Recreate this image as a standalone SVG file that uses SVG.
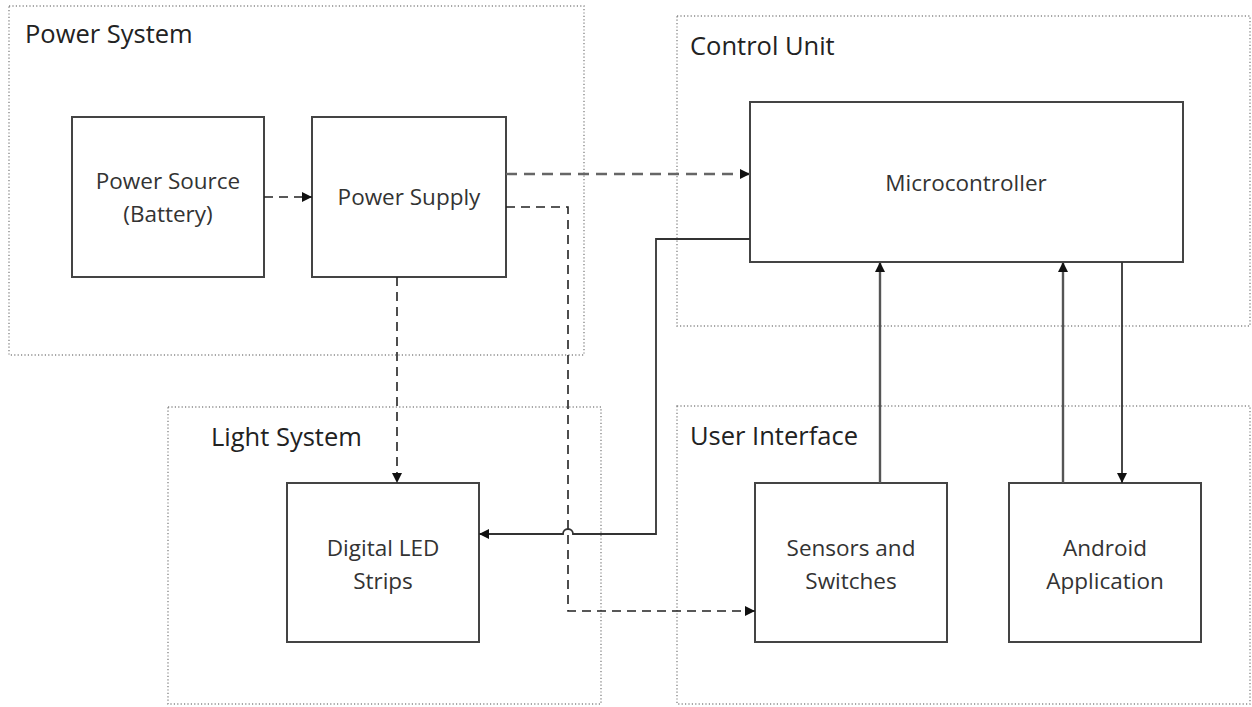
<svg xmlns="http://www.w3.org/2000/svg" width="1252" height="707" viewBox="0 0 1252 707">
  <style>
    .group { fill: none; stroke: #8a8a8a; stroke-width: 1.4; stroke-dasharray: 1.2 2.2; }
    .box { fill: #ffffff; stroke: #444444; stroke-width: 2; }
    .title { font-family: "Open Sans", "Liberation Sans", sans-serif; font-size: 25.5px; fill: #222222; }
    .label { font-family: "Open Sans", "Liberation Sans", sans-serif; font-size: 22.5px; fill: #333333; text-anchor: middle; }
    .dash { fill: none; stroke: #222222; stroke-width: 1.6; stroke-dasharray: 9 6; }
    .dash-grey { fill: none; stroke: #666666; stroke-width: 2.4; stroke-dasharray: 11 7; }
    .solid { fill: none; stroke: #333333; stroke-width: 1.8; }
    .solid-grey { fill: none; stroke: #555555; stroke-width: 2.4; }
  </style>
  <defs>
    <marker id="arrow" viewBox="0 0 10 10" refX="10" refY="5" markerWidth="10" markerHeight="10" markerUnits="userSpaceOnUse" orient="auto">
      <path d="M0,0 L10,5 L0,10 z" fill="#111111"/>
    </marker>
  </defs>

  <rect width="1252" height="707" fill="#ffffff"/>

  <!-- subsystem frames -->
  <g id="power-system">
    <rect class="group" x="9" y="6" width="575" height="349"/>
    <text class="title" x="25" y="43">Power System</text>
  </g>
  <g id="control-unit">
    <rect class="group" x="677" y="16" width="573" height="310"/>
    <text class="title" x="690" y="55">Control Unit</text>
  </g>
  <g id="light-system">
    <rect class="group" x="168" y="407" width="433" height="297"/>
    <text class="title" x="211" y="446">Light System</text>
  </g>
  <g id="user-interface">
    <rect class="group" x="677" y="406" width="573" height="298"/>
    <text class="title" x="690" y="445">User Interface</text>
  </g>

  <!-- components -->
  <g id="power-source">
    <rect class="box" x="72" y="117" width="192" height="160"/>
    <text class="label" x="168" y="189">Power Source</text>
    <text class="label" x="168" y="222">(Battery)</text>
  </g>
  <g id="power-supply">
    <rect class="box" x="312" y="117" width="194" height="160"/>
    <text class="label" x="409" y="205">Power Supply</text>
  </g>
  <g id="microcontroller">
    <rect class="box" x="750" y="102" width="433" height="160"/>
    <text class="label" x="966" y="191">Microcontroller</text>
  </g>
  <g id="digital-led-strips">
    <rect class="box" x="287" y="483" width="192" height="159"/>
    <text class="label" x="383" y="556">Digital LED</text>
    <text class="label" x="383" y="589">Strips</text>
  </g>
  <g id="sensors-switches">
    <rect class="box" x="755" y="483" width="192" height="159"/>
    <text class="label" x="851" y="556">Sensors and</text>
    <text class="label" x="851" y="589">Switches</text>
  </g>
  <g id="android-app">
    <rect class="box" x="1009" y="483" width="192" height="159"/>
    <text class="label" x="1105" y="556">Android</text>
    <text class="label" x="1105" y="589">Application</text>
  </g>

  <!-- connectors -->
  <g id="connectors">
    <!-- power distribution -->
    <path class="dash" d="M264,197 H312" marker-end="url(#arrow)"/>
    <path class="dash-grey" d="M506,174 H750" marker-end="url(#arrow)"/>
    <path class="dash" d="M506,207 H568 V611 H755" marker-end="url(#arrow)"/>
    <path class="dash" d="M397,277 V483" marker-end="url(#arrow)"/>
    <!-- control to lights, hopping over the supply line -->
    <path class="solid" d="M750,239 H656 V534 H573 A5,5 0 0 0 563,534 H479" marker-end="url(#arrow)"/>
    <!-- inputs and feedback -->
    <path class="solid-grey" d="M880,483 V262" marker-end="url(#arrow)"/>
    <path class="solid-grey" d="M1063,483 V262" marker-end="url(#arrow)"/>
    <path class="solid" d="M1122,262 V483" marker-end="url(#arrow)"/>
  </g>
</svg>
